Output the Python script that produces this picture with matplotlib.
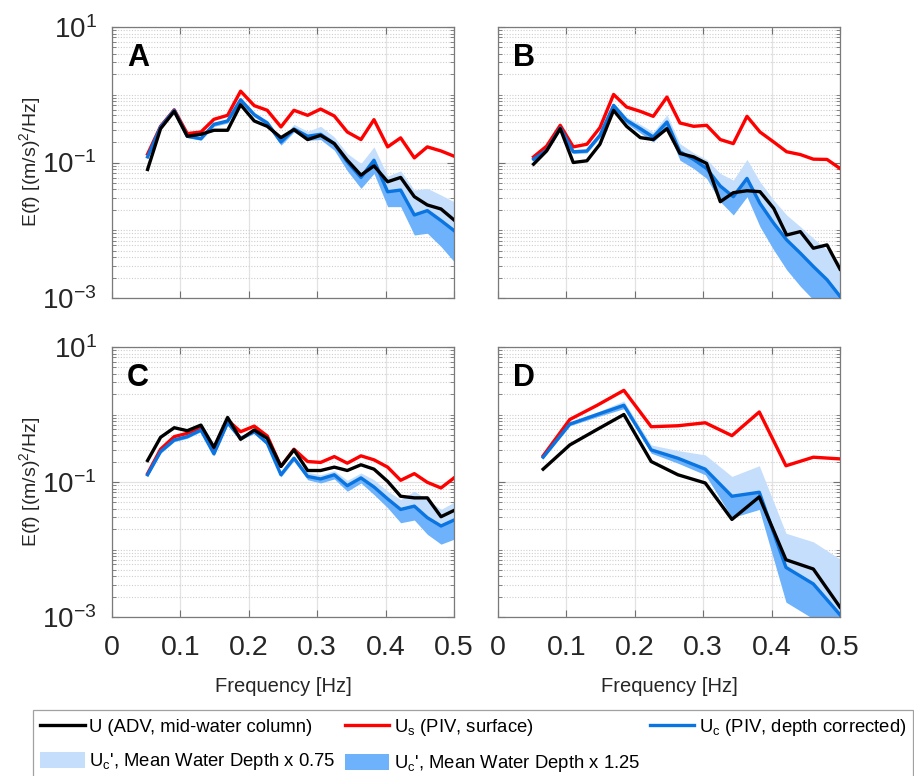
import numpy as np
import matplotlib
matplotlib.use("Agg")
import matplotlib.pyplot as plt
from matplotlib.lines import Line2D
from matplotlib.patches import Patch

plt.rcParams['font.family'] = ['Liberation Sans', 'DejaVu Sans']
plt.rcParams['mathtext.fontset'] = 'custom'
plt.rcParams['mathtext.rm'] = 'Liberation Sans'
plt.rcParams['mathtext.it'] = 'Liberation Sans:italic'
plt.rcParams['mathtext.bf'] = 'Liberation Sans:bold'

# ---------------- data ----------------
freq_abc = [0.052, 0.071, 0.091, 0.110, 0.130, 0.149, 0.169, 0.188, 0.208, 0.227, 0.247, 0.266,
            0.286, 0.305, 0.325, 0.344, 0.364, 0.383, 0.403, 0.422, 0.442, 0.461, 0.481, 0.500]
freq_d = [0.066, 0.105, 0.145, 0.184, 0.224, 0.263, 0.303, 0.342, 0.382, 0.421, 0.461, 0.500]

# Panel A
a_adv = [0.0789, 0.316, 0.569, 0.244, 0.261, 0.299, 0.299, 0.713, 0.410, 0.342, 0.233, 0.306,
         0.218, 0.252, 0.190, 0.108, 0.0651, 0.0893, 0.052, 0.0602, 0.0313, 0.0236, 0.0206, 0.0142]
a_us = [0.133, 0.342, 0.60, 0.267, 0.282, 0.434, 0.497, 1.13, 0.69, 0.59, 0.335, 0.59,
        0.497, 0.615, 0.486, 0.282, 0.218, 0.429, 0.170, 0.231, 0.117, 0.170, 0.148, 0.124]
a_uc = [0.121, 0.335, 0.59, 0.244, 0.225, 0.366, 0.410, 0.844, 0.508, 0.383, 0.201, 0.313,
        0.244, 0.261, 0.190, 0.102, 0.0602, 0.108, 0.037, 0.0392, 0.0168, 0.0195, 0.0139, 0.0099]
a_uc075 = [0.128, 0.346, 0.608, 0.252, 0.238, 0.383, 0.444, 0.904, 0.550, 0.419, 0.225, 0.366,
           0.289, 0.342, 0.238, 0.136, 0.0967, 0.170, 0.063, 0.0754, 0.0392, 0.0415, 0.0331, 0.0264]
a_uc125 = [0.115, 0.316, 0.556, 0.233, 0.213, 0.342, 0.383, 0.780, 0.470, 0.354, 0.180, 0.282,
           0.213, 0.218, 0.152, 0.0754, 0.0415, 0.0689, 0.0223, 0.0223, 0.0085, 0.00904, 0.00575, 0.00346]

# Panel B
b_adv = [0.0945, 0.148, 0.316, 0.100, 0.106, 0.186, 0.59, 0.342, 0.233, 0.218, 0.316, 0.136,
         0.121, 0.0967, 0.0264, 0.0358, 0.0383, 0.0371, 0.0211, 0.0085, 0.00955, 0.00543, 0.00608, 0.00267]
b_us = [0.121, 0.174, 0.354, 0.170, 0.186, 0.327, 1.01, 0.659, 0.569, 0.480, 0.924, 0.383,
        0.342, 0.354, 0.218, 0.190, 0.480, 0.282, 0.201, 0.144, 0.131, 0.112, 0.111, 0.0816]
b_uc = [0.112, 0.152, 0.324, 0.144, 0.148, 0.252, 0.697, 0.419, 0.316, 0.238, 0.396, 0.144,
        0.111, 0.0816, 0.0449, 0.0313, 0.0582, 0.0249, 0.0127, 0.00721, 0.00459, 0.00292, 0.00186, 0.00106]
b_uc075 = [0.119, 0.159, 0.342, 0.152, 0.157, 0.273, 0.754, 0.470, 0.366, 0.282, 0.508, 0.190,
           0.139, 0.111, 0.0689, 0.055, 0.111, 0.052, 0.0279, 0.0168, 0.0113, 0.00763, 0.00514, 0.00327]
b_uc125 = [0.106, 0.144, 0.306, 0.136, 0.139, 0.233, 0.644, 0.375, 0.273, 0.201, 0.316, 0.108,
           0.0816, 0.0582, 0.0264, 0.0168, 0.0313, 0.0113, 0.00514, 0.00261, 0.00149, 0.00094, 0.00053, 0.00030]

# Panel C
c_adv = [0.208, 0.459, 0.637, 0.575, 0.697, 0.327, 0.904, 0.429, 0.589, 0.444, 0.170, 0.299,
         0.148, 0.148, 0.166, 0.148, 0.180, 0.155, 0.102, 0.0615, 0.0582, 0.0582, 0.0306, 0.0379]
c_us = [0.133, 0.306, 0.470, 0.526, 0.644, 0.282, 0.826, 0.556, 0.673, 0.480, 0.170, 0.306,
        0.201, 0.195, 0.238, 0.190, 0.244, 0.213, 0.166, 0.106, 0.133, 0.0989, 0.0816, 0.115]
c_uc = [0.128, 0.282, 0.419, 0.470, 0.589, 0.261, 0.754, 0.444, 0.556, 0.375, 0.128, 0.225,
        0.121, 0.111, 0.128, 0.0883, 0.115, 0.0844, 0.0562, 0.0392, 0.0439, 0.0296, 0.0223, 0.0273]
c_uc075 = [0.133, 0.296, 0.439, 0.491, 0.615, 0.273, 0.789, 0.470, 0.582, 0.396, 0.139, 0.244,
           0.139, 0.128, 0.147, 0.106, 0.136, 0.108, 0.0729, 0.055, 0.0729, 0.055, 0.0392, 0.0502]
c_uc125 = [0.121, 0.267, 0.396, 0.444, 0.556, 0.247, 0.713, 0.419, 0.526, 0.354, 0.119, 0.208,
           0.108, 0.0967, 0.111, 0.0729, 0.0967, 0.0651, 0.0415, 0.0249, 0.0273, 0.0168, 0.012, 0.0142]

# Panel D
d_adv = [0.155, 0.354, 0.601, 1.0, 0.201, 0.128, 0.0967, 0.0279, 0.0602, 0.00705, 0.00514, 0.0014]
d_us = [0.244, 0.844, 1.37, 2.28, 0.659, 0.681, 0.754, 0.486, 1.09, 0.174, 0.233, 0.220]
d_uc = [0.233, 0.721, 1.0, 1.37, 0.299, 0.225, 0.155, 0.0615, 0.0705, 0.00543, 0.00309, 0.00108]
d_uc075 = [0.244, 0.771, 1.09, 1.59, 0.354, 0.292, 0.252, 0.121, 0.174, 0.0174, 0.013, 0.00721]
d_uc125 = [0.223, 0.681, 0.924, 1.22, 0.267, 0.190, 0.128, 0.0296, 0.0392, 0.00166, 0.00094, 0.00044]

panel_letters = ['A', 'B', 'C', 'D']
x_ticks = [0, 0.1, 0.2, 0.3, 0.4, 0.5]
x_ticklabels = ['0', '0.1', '0.2', '0.3', '0.4', '0.5']
y_ticks = [1e-3, 1e-1, 1e1]
y_ticklabels = [r'$\mathregular{10^{-3}}$', r'$\mathregular{10^{-1}}$', r'$\mathregular{10^{1}}$']

legend_labels = ['U (ADV, mid-water column)',
                 r'U$_\mathregular{s}$ (PIV, surface)',
                 r'U$_\mathregular{c}$ (PIV, depth corrected)',
                 r"U$_\mathregular{c}$', Mean Water Depth x 0.75",
                 r"U$_\mathregular{c}$', Mean Water Depth x 1.25"]

panels = [
    (freq_abc, a_adv, a_us, a_uc, a_uc075, a_uc125),
    (freq_abc, b_adv, b_us, b_uc, b_uc075, b_uc125),
    (freq_abc, c_adv, c_us, c_uc, c_uc075, c_uc125),
    (freq_d, d_adv, d_us, d_uc, d_uc075, d_uc125),
]

# ---------------- style ----------------
W, H = 914, 776
C_BLACK = '#000000'
C_RED = '#ff0000'
C_BLUE = '#0a74e0'
C_LIGHT = '#c4defc'
C_DARK = '#6db2fb'
LW = 2.4

fig = plt.figure(figsize=(W / 100, H / 100), dpi=100)

axes_px = [(112, 27, 454, 298), (498, 27, 840, 298),
           (112, 347, 454, 617), (498, 347, 840, 617)]

minor_y = [m * 10.0 ** e for e in range(-3, 1) for m in range(1, 10)
           if not (m == 1 and e in (-3, -1))]

for i, (px, data) in enumerate(zip(axes_px, panels)):
    x0, y0, x1, y1 = px
    ax = fig.add_axes([x0 / W, 1 - y1 / H, (x1 - x0) / W, (y1 - y0) / H])
    f, adv, us, uc, uc075, uc125 = data
    ax.fill_between(f, uc, uc075, color=C_LIGHT, lw=0, zorder=1)
    ax.fill_between(f, uc125, uc, color=C_DARK, lw=0, zorder=1.1)
    ax.plot(f, us, color=C_RED, lw=LW, zorder=3)
    ax.plot(f, uc, color=C_BLUE, lw=LW, zorder=3.5)
    ax.plot(f, adv, color=C_BLACK, lw=LW, zorder=4)
    ax.set_yscale('log')
    ax.set_xlim(0, 0.5)
    ax.set_ylim(1e-3, 1e1)
    ax.set_xticks(x_ticks)
    ax.set_yticks(y_ticks)
    ax.set_yticks(minor_y, minor=True)
    ax.set_yticklabels([], minor=True)
    ax.set_axisbelow(True)
    ax.grid(True, which='major', color='#e2e2e2', lw=0.9, ls='-', zorder=0)
    ax.grid(True, which='minor', axis='y', color='#cfcfcf', lw=0.8, ls=(0, (1, 1.5)), zorder=0)
    ax.tick_params(which='both', direction='in', top=True, right=True, color='#707070')
    ax.tick_params(which='major', length=5, width=0.8)
    ax.tick_params(which='minor', length=3, width=0.6)
    for s in ax.spines.values():
        s.set_color('#7a7a7a')
        s.set_linewidth(0.9)
    if i >= 2:
        ax.set_xticklabels(x_ticklabels, fontsize=20.5)
        ax.tick_params(axis='x', pad=13)
    else:
        ax.set_xticklabels([])
    if i % 2 == 0:
        ax.set_yticklabels(y_ticklabels, fontsize=20)
        ax.tick_params(axis='y', pad=11)
    else:
        ax.set_yticklabels([])
    for lab in ax.get_xticklabels() + ax.get_yticklabels():
        lab.set_color('#262626')
    ax.text(0.044, 0.94, panel_letters[i], transform=ax.transAxes, fontsize=22,
            fontweight='bold', ha='left', va='top', zorder=6)

# axis labels
for yc in (162, 482):
    fig.text(30 / W, 1 - yc / H, r'E(f) [(m/s)$^\mathregular{2}$/Hz]', rotation=90,
             ha='center', va='center', fontsize=14, color='#262626')
for xc in (283, 669):
    fig.text(xc / W, 1 - 687 / H, 'Frequency [Hz]', ha='center', va='center',
             fontsize=14.5, color='#262626')

# legend
handles = [Line2D([], [], color=C_BLACK, lw=LW),
           Patch(facecolor=C_LIGHT, edgecolor='none'),
           Line2D([], [], color=C_RED, lw=LW),
           Patch(facecolor=C_DARK, edgecolor='none'),
           Line2D([], [], color=C_BLUE, lw=LW)]
labels = [legend_labels[0], legend_labels[3], legend_labels[1], legend_labels[4], legend_labels[2]]
leg = fig.legend(handles, labels, ncol=3, loc='upper left',
                 bbox_to_anchor=(33 / W, 1 - 710 / H), fontsize=13.3,
                 frameon=True, fancybox=False, edgecolor='#8a8a8a',
                 handlelength=2.4, handleheight=1.0, handletextpad=0.25,
                 columnspacing=0.5, labelspacing=0.8, borderpad=0.4,
                 borderaxespad=0)
leg.get_frame().set_linewidth(0.9)

fig.savefig('out.png', dpi=100)
